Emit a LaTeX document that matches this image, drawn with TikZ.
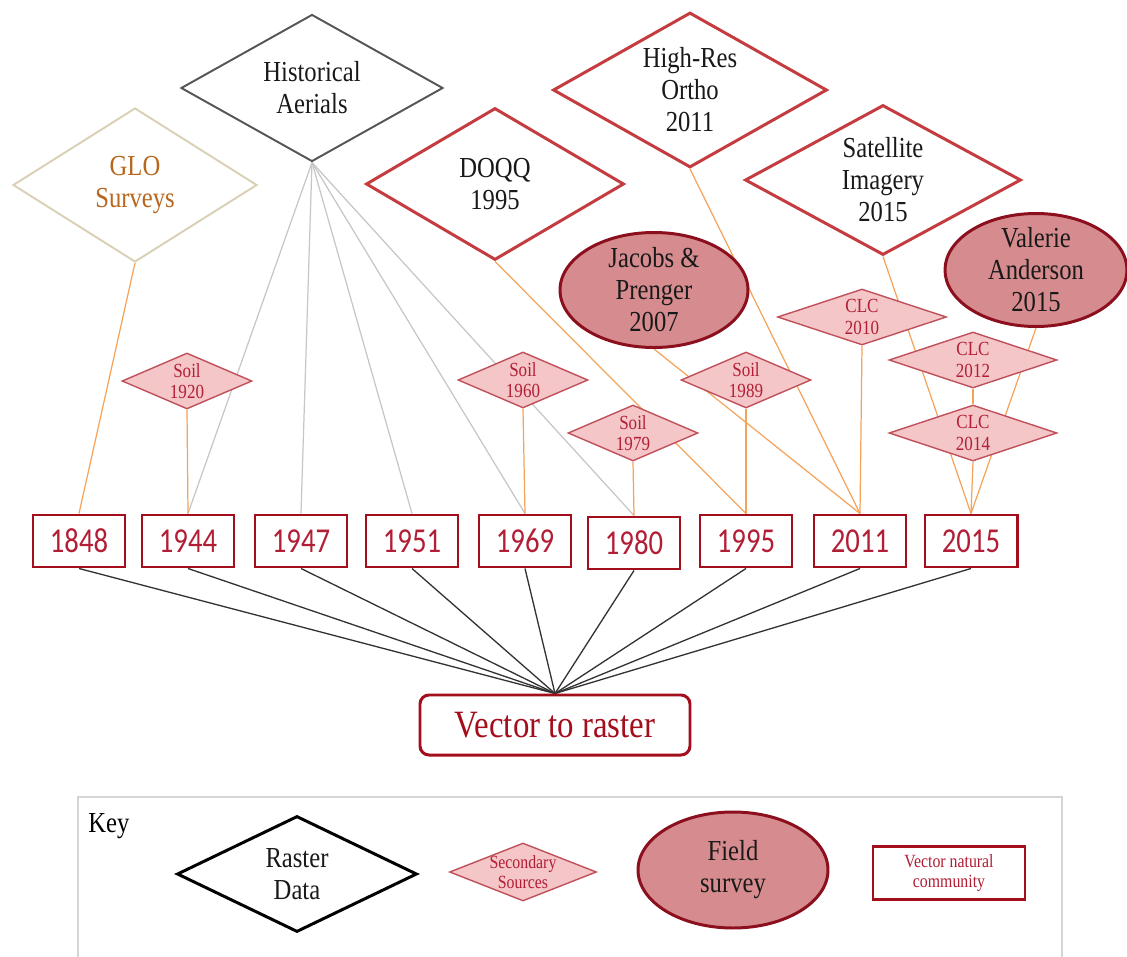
\documentclass[tikz,border=0pt]{standalone}
\usepackage{fontspec}
\setmainfont{Liberation Serif}[FakeStretch=0.85]
\newfontfamily\yearfont{Carlito}[FakeStretch=0.82]
\usetikzlibrary{shapes.geometric,backgrounds}

\definecolor{boxred}{RGB}{163,13,28}
\definecolor{yeartext}{RGB}{178,30,53}
\definecolor{rasterred}{RGB}{196,60,63}
\definecolor{pinkfill}{RGB}{244,198,200}
\definecolor{pinkdraw}{RGB}{192,80,90}
\definecolor{rosefill}{RGB}{214,140,142}
\definecolor{rosedraw}{RGB}{140,15,30}
\definecolor{glodraw}{RGB}{217,208,181}
\definecolor{glotext}{RGB}{184,102,30}
\definecolor{aerialdraw}{RGB}{85,85,85}
\definecolor{orangeline}{RGB}{245,163,90}
\definecolor{grayline}{RGB}{198,198,198}
\definecolor{keydraw}{RGB}{213,213,213}

\newcommand{\px}[1]{#1*0.02cm}
\newcommand{\bigfont}[0]{\fontsize{16.5pt}{18.2pt}\selectfont}
\newcommand{\smallfont}[0]{\fontsize{11.4pt}{12.2pt}\selectfont}
\newcommand{\keyfont}[0]{\fontsize{10.6pt}{11.8pt}\selectfont}
\newcommand{\boxfont}[0]{\yearfont\fontsize{19.9pt}{22pt}\selectfont}
\newcommand{\vtrfont}[0]{\fontsize{22pt}{24pt}\selectfont}

\tikzstyle{oedge} = [draw=orangeline,line width=0.7pt]
\tikzstyle{gedge} = [draw=grayline,line width=0.7pt]
\tikzstyle{kedge} = [draw=black!80,line width=0.75pt]
\tikzstyle{base}=[
  align=center,
  anchor=center,
  inner sep=0pt,
]
\tikzstyle{raster}=[
  base,
  diamond,
  inner sep=-10pt,
  draw=rasterred,
  line width=1.7pt,
  fill=white,
  text=black!90,
  font=\bigfont,
]
\tikzstyle{aerial}=[
  raster,
  draw=aerialdraw,
  line width=1.1pt,
]
\tikzstyle{glo}=[
  raster,
  draw=glodraw,
  line width=1.1pt,
  text=glotext,
]
\tikzstyle{secondary}=[
  base,
  diamond,
  inner sep=-8pt,
  draw=pinkdraw,
  fill=pinkfill,
  line width=0.8pt,
  text=yeartext,
  font=\smallfont,
  minimum width=\px{130},
  minimum height=\px{56},
]
\tikzstyle{survey}=[
  base,
  ellipse,
  inner sep=-15pt,
  draw=rosedraw,
  fill=rosefill,
  line width=1.7pt,
  text=black!90,
  font=\bigfont,
]
\tikzstyle{yearbox}=[
  base,
  rectangle,
  draw=boxred,
  line width=1.7pt,
  fill=white,
  text=yeartext,
  font=\boxfont,
  minimum width=\px{92},
  minimum height=\px{52},
]
\tikzstyle{vtr}=[
  base,
  rectangle,
  rounded corners=\px{9},
  draw=boxred,
  line width=1.7pt,
  fill=white,
  text=boxred,
  font=\vtrfont,
  minimum width=\px{270},
  minimum height=\px{60},
]

\begin{document}
\begin{tikzpicture}[x=0.02cm,y=-0.02cm]
  \useasboundingbox (0,0) rectangle (1127,957);

  % raster sources
  \node[glo, minimum width=\px{244}, minimum height=\px{154}] (glo) at (135,185) {GLO\\Surveys};
  \node[aerial, minimum width=\px{262}, minimum height=\px{147}] (aerials) at (312,88) {Historical\\Aerials};
  \node[raster, minimum width=\px{258}, minimum height=\px{152}] (doqq) at (495,184) {DOQQ\\1995};
  \node[raster, minimum width=\px{274}, minimum height=\px{155}] (ortho) at (690,90) {High-Res\\Ortho\\2011};
  \node[raster, minimum width=\px{276}, minimum height=\px{150}] (satellite) at (883,180) {Satellite\\Imagery\\2015};

  % field surveys
  \node[survey, minimum width=\px{188}, minimum height=\px{115}] (jacobs) at (654,290) {Jacobs \&\\Prenger\\2007};
  \node[survey, minimum width=\px{182}, minimum height=\px{113}] (valerie) at (1036,270) {Valerie\\Anderson\\2015};

  % secondary sources
  \node[secondary] (soil1920) at (187,381) {Soil\\1920};
  \node[secondary] (soil1960) at (523,380) {Soil\\1960};
  \node[secondary] (soil1979) at (633,433) {Soil\\1979};
  \node[secondary] (soil1989) at (746,380) {Soil\\1989};
  \node[secondary, minimum width=\px{169}] (clc2010) at (862,317) {CLC\\2010};
  \node[secondary, minimum width=\px{168}] (clc2012) at (973,360) {CLC\\2012};
  \node[secondary, minimum width=\px{168}] (clc2014) at (973,433) {CLC\\2014};

  % vector natural community maps
  \node[yearbox] (y1848) at (79,541) {1848};
  \node[yearbox] (y1944) at ([xshift=\px{109}] y1848.center) {1944};
  \node[yearbox] (y1947) at ([xshift=\px{113}] y1944.center) {1947};
  \node[yearbox] (y1951) at ([xshift=\px{111}] y1947.center) {1951};
  \node[yearbox] (y1969) at ([xshift=\px{113}] y1951.center) {1969};
  \node[yearbox] (y1980) at ([xshift=\px{109}, yshift=-\px{2}] y1969.center) {1980};
  \node[yearbox] (y1995) at ([xshift=\px{112}, yshift=\px{2}] y1980.center) {1995};
  \node[yearbox] (y2011) at ([xshift=\px{114}] y1995.center) {2011};
  \node[yearbox] (y2015) at ([xshift=\px{111}] y2011.center) {2015};

  \node[vtr] (raster) at (555,725) {Vector to raster};

  \begin{scope}[on background layer]
    \foreach \yr in {1944,1947,1951,1969,1980}
      \draw[gedge] (aerials.south) -- (y\yr.north);
    \draw[oedge] (glo.south) -- (y1848.north);
    \draw[oedge] (soil1920.south) -- (y1944.north);
    \draw[oedge] (soil1960.south) -- (y1969.north);
    \draw[oedge] (soil1979.south) -- (y1980.north);
    \draw[oedge] (soil1989.south) -- (y1995.north);
    \draw[oedge] (doqq.south) -- (y1995.north);
    \draw[oedge] (jacobs.south) -- (y2011.north);
    \draw[oedge] (ortho.south) -- (y2011.north);
    \draw[oedge] (clc2010.south) -- (y2011.north);
    \draw[oedge] (satellite.south) -- (y2015.north);
    \draw[oedge] (valerie.south) -- (y2015.north);
    \draw[oedge] (clc2012.south) -- (clc2014.north);
    \draw[oedge] (clc2014.south) -- (y2015.north);
    \foreach \yr in {1848,1944,1947,1951,1969,1980,1995,2011,2015}
      \draw[kedge] (y\yr.south) -- (raster.north);
  \end{scope}

  % key
  \draw[draw=keydraw, line width=1.1pt] (78,957) -- (78,797) -- (1062,797) -- (1062,957);
  \node[base, anchor=west, font=\bigfont] (keylabel) at (88,826) {Key};
  \node[raster, draw=black, minimum width=\px{240}, minimum height=\px{116}] (rasterkey) at (297,874) {Raster\\Data};
  \node[secondary, font=\keyfont, minimum width=\px{147}, minimum height=\px{58}] (secondarykey) at (523,872) {Secondary\\Sources};
  \node[survey, minimum width=\px{190}, minimum height=\px{116}] (surveykey) at (733,870) {Field\\survey};
  \node[yearbox, font=\keyfont, line width=1.3pt, minimum width=\px{152}, minimum height=\px{53}] (vectorkey) at (949,873) {Vector natural\\community};
\end{tikzpicture}
\end{document}
